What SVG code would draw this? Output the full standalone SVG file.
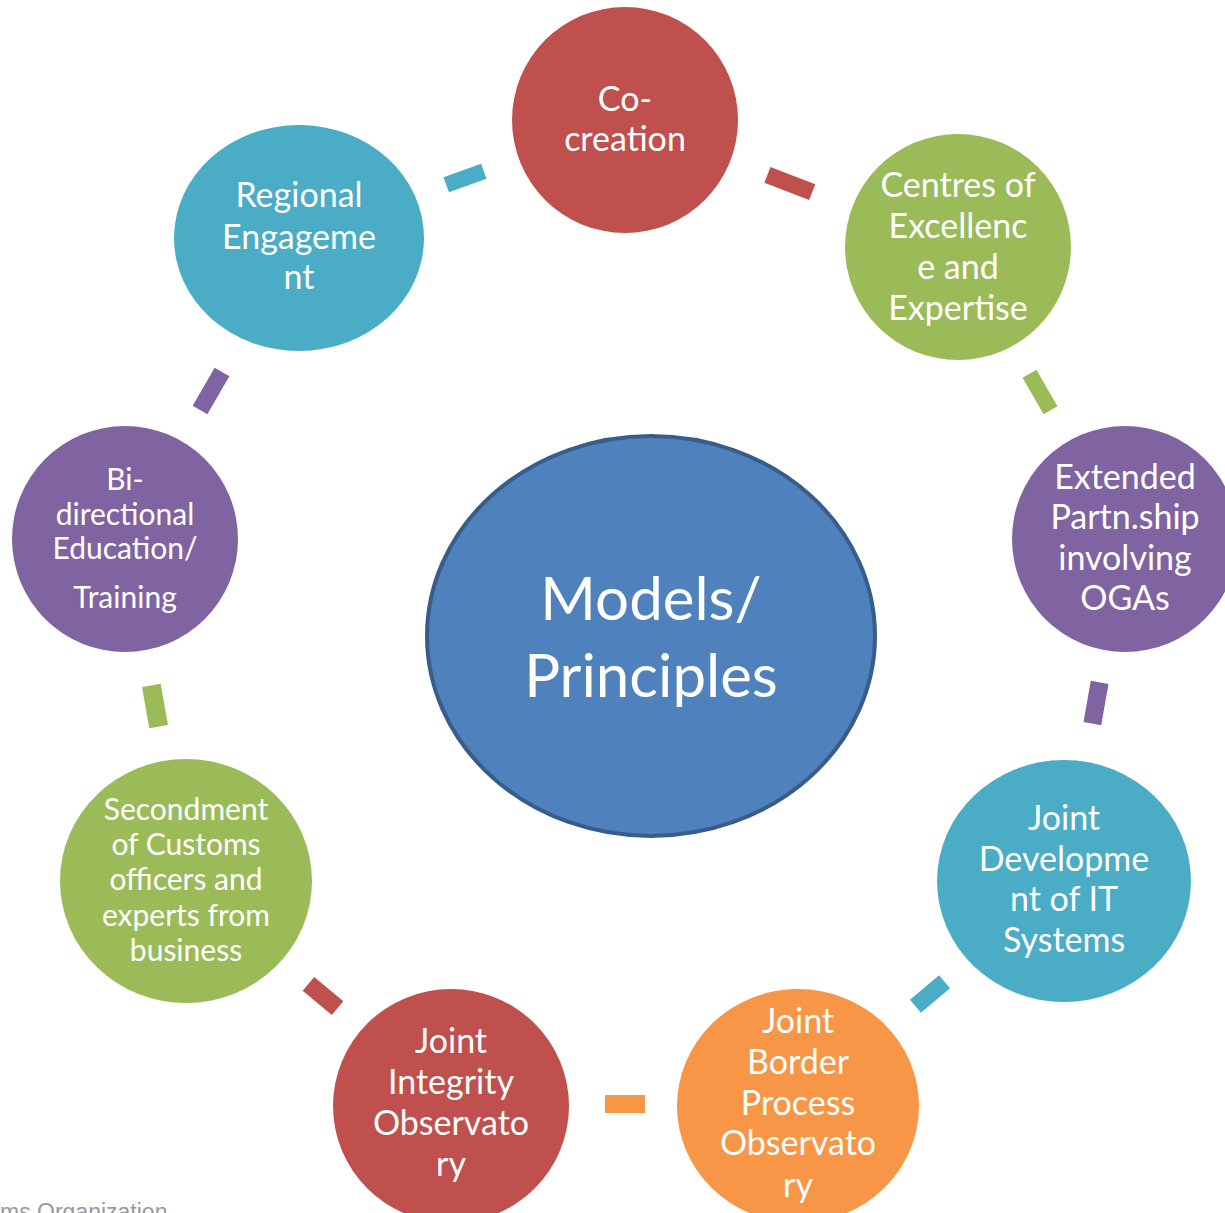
<svg xmlns="http://www.w3.org/2000/svg" width="1225" height="1213" viewBox="0 0 1225 1213">
<style>
.t{font-family:Lato,"Open Sans","Liberation Sans",sans-serif;fill:#ffffff;text-anchor:middle;font-size:34px}
.s{font-size:30px}
.c{font-size:60px}
.red{fill:#C0504D}.green{fill:#9BBB59}.purple{fill:#8064A2}.teal{fill:#4BACC6}.orange{fill:#F79646}
</style>
<rect width="1225" height="1213" fill="#ffffff"/>
<g id="connectors">
<rect class="teal" x="-20" y="-8" width="40" height="16" transform="translate(465,178) rotate(-20)"/>
<rect class="red" x="-24" y="-8" width="48" height="17" transform="translate(790,183) rotate(21)"/>
<rect class="green" x="-21" y="-8" width="42" height="16" transform="translate(1040,392) rotate(60)"/>
<rect class="purple" x="-21" y="-9" width="42" height="18" transform="translate(1096,703) rotate(100)"/>
<rect class="teal" x="-19" y="-8.5" width="38" height="17" transform="translate(930,994) rotate(-40)"/>
<rect class="orange" x="605" y="1095" width="40" height="18"/>
<rect class="red" x="-19" y="-9" width="38" height="18" transform="translate(323,996) rotate(40)"/>
<rect class="green" x="-21" y="-9.5" width="42" height="19" transform="translate(155,706) rotate(80)"/>
<rect class="purple" x="-22" y="-8.5" width="44" height="17" transform="translate(211,391) rotate(-60)"/>
</g>
<g id="center">
<ellipse cx="651" cy="636" rx="224" ry="200" fill="#4F81BD" stroke="#385D8A" stroke-width="4"/>
<text class="t c" x="651" y="620">Models/</text>
<text class="t c" x="651" y="697">Principles</text>
</g>
<g id="co-creation">
<circle class="red" cx="625" cy="120" r="113"/>
<text class="t" x="625" y="111">Co-</text>
<text class="t" x="625" y="151">creation</text>
</g>
<g id="centres">
<circle class="green" cx="958" cy="247" r="113"/>
<text class="t" x="958" y="197">Centres of</text>
<text class="t" x="958" y="238">Excellenc</text>
<text class="t" x="958" y="279">e and</text>
<text class="t" x="958" y="320">Expertise</text>
</g>
<g id="extended">
<circle class="purple" cx="1125" cy="539" r="113"/>
<text class="t" x="1125" y="489">Extended</text>
<text class="t" x="1125" y="529">Partn.ship</text>
<text class="t" x="1125" y="570">involving</text>
<text class="t" x="1125" y="610">OGAs</text>
</g>
<g id="joint-it">
<ellipse class="teal" cx="1064" cy="881" rx="127" ry="121"/>
<text class="t" x="1064" y="830">Joint</text>
<text class="t" x="1064" y="871">Developme</text>
<text class="t" x="1064" y="911">nt of IT</text>
<text class="t" x="1064" y="952">Systems</text>
</g>
<g id="joint-border">
<ellipse class="orange" cx="798" cy="1106" rx="121" ry="117"/>
<text class="t" x="798" y="1033">Joint</text>
<text class="t" x="798" y="1074">Border</text>
<text class="t" x="798" y="1115">Process</text>
<text class="t" x="798" y="1155">Observato</text>
<text class="t" x="798" y="1197">ry</text>
</g>
<g id="joint-integrity">
<ellipse class="red" cx="451" cy="1106" rx="118" ry="117"/>
<text class="t" x="451" y="1053">Joint</text>
<text class="t" x="451" y="1094">Integrity</text>
<text class="t" x="451" y="1135">Observato</text>
<text class="t" x="451" y="1176">ry</text>
</g>
<g id="secondment">
<ellipse class="green" cx="186" cy="881" rx="126" ry="122"/>
<text class="t s" x="186" y="820">Secondment</text>
<text class="t s" x="186" y="855">of Customs</text>
<text class="t s" x="186" y="890">officers and</text>
<text class="t s" x="186" y="926">experts from</text>
<text class="t s" x="186" y="961">business</text>
</g>
<g id="bi-directional">
<circle class="purple" cx="125" cy="539" r="113"/>
<text class="t s" x="125" y="490">Bi-</text>
<text class="t s" x="125" y="525">directional</text>
<text class="t s" x="125" y="559">Education/</text>
<text class="t s" x="125" y="608">Training</text>
</g>
<g id="regional">
<ellipse class="teal" cx="299" cy="238" rx="125" ry="113"/>
<text class="t" x="299" y="207">Regional</text>
<text class="t" x="299" y="249">Engageme</text>
<text class="t" x="299" y="289">nt</text>
</g>
<text x="0" y="1220" font-family="'Liberation Sans',Arial,sans-serif" font-size="23" fill="#999999">ms Organization</text>
</svg>
